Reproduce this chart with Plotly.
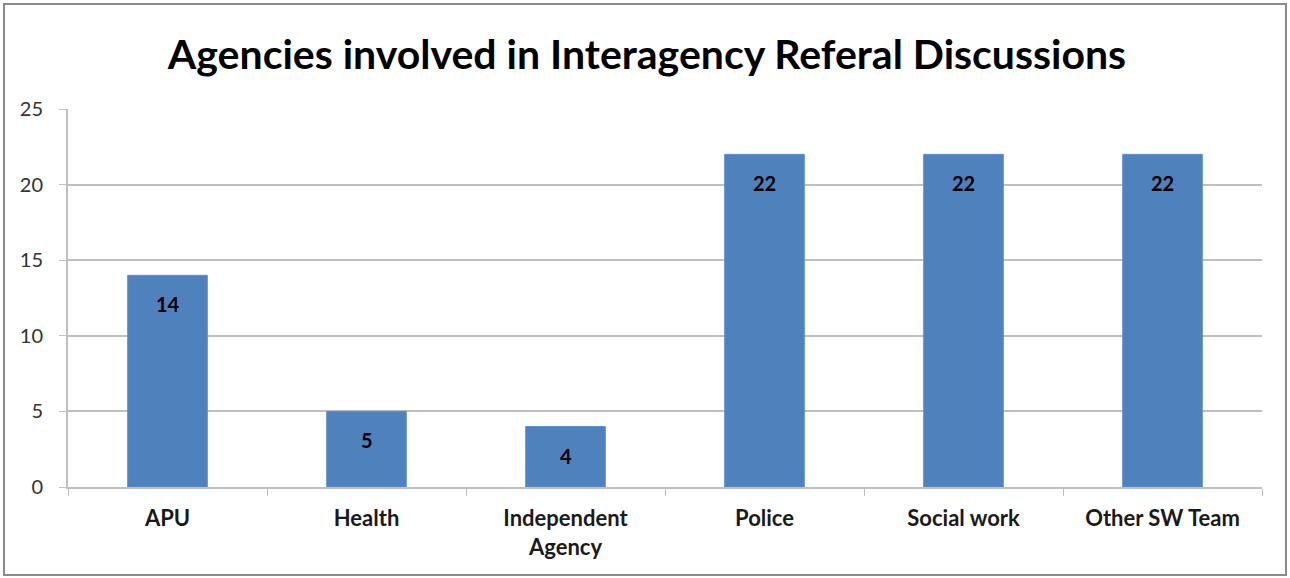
import plotly.graph_objects as go

categories = ["APU", "Health", "Independent<br>Agency", "Police", "Social work", "Other SW Team"]
values = [14, 5, 4, 22, 22, 22]
y_ticks = [0, 5, 10, 15, 20, 25]
title_text = "Agencies involved in Interagency Referal Discussions"

FONT = "Lato, 'Open Sans', sans-serif"

fig = go.Figure()
fig.add_trace(go.Bar(
    x=categories, y=values, width=0.4,
    marker=dict(color="#4F81BD", line=dict(color="#5B8FD0", width=1)),
    hoverinfo="x+y",
))

for c, v in zip(categories, values):
    fig.add_annotation(x=c, y=v, text=f"<b>{v}</b>", showarrow=False,
                       yshift=-29, font=dict(family=FONT, size=20, color="#000000"))

L, R, T, B = 68, 28, 109, 91
W, H = 1290, 578
pw, ph = W - L - R, H - T - B
fig.add_shape(type="rect", xref="paper", yref="paper",
              x0=(4 - L) / pw, x1=(W - 4 - L) / pw,
              y0=-(H - 3 - (H - B)) / ph, y1=(H - B - 4) / ph,
              line=dict(color="#8c8c8c", width=2), layer="below")

fig.update_layout(
    width=W, height=H,
    margin=dict(l=L, r=R, t=T, b=B),
    paper_bgcolor="white", plot_bgcolor="white",
    showlegend=False,
    title=dict(text=f"<b>{title_text}</b>", x=647 / W, xanchor="center",
               y=1 - 55 / H, yanchor="middle",
               font=dict(family=FONT, size=41, color="#000000")),
    xaxis=dict(type="category", tickson="boundaries", ticks="outside", ticklen=7,
               tickcolor="#bfbfbf", showline=True, linecolor="#bfbfbf", linewidth=2,
               tickfont=dict(family=FONT, size=22, color="#1a1a1a", weight="bold"),
               ticklabelstandoff=11, showgrid=False, range=[-0.5, 5.5]),
    yaxis=dict(range=[0, 25], tickvals=y_ticks, ticks="outside", ticklen=7,
               tickcolor="#bfbfbf", showline=True, linecolor="#bfbfbf", linewidth=2,
               showgrid=True, gridcolor="#bfbfbf", gridwidth=1.5, zeroline=False,
               tickfont=dict(family=FONT, size=20, color="#333333"),
               ticklabelstandoff=12),
    font=dict(family=FONT),
)

fig.write_html("out.html")
